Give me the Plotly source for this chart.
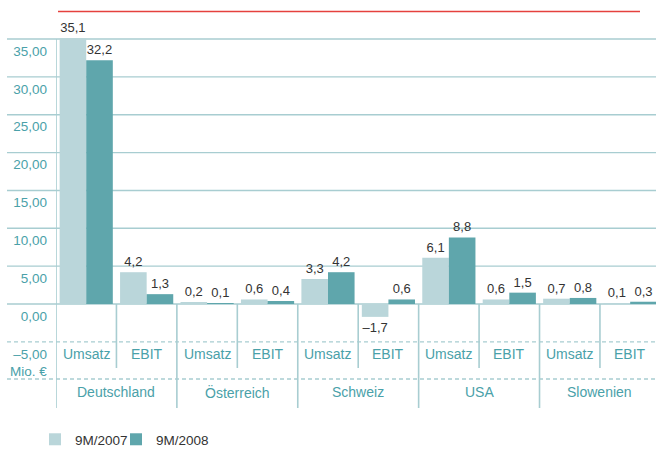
import plotly.graph_objects as go

countries = ["Deutschland", "Österreich", "Schweiz", "USA", "Slowenien"]
measures = ["Umsatz", "EBIT"]
series_names = ["9M/2007", "9M/2008"]
values_2007 = [35.1, 4.2, 0.2, 0.6, 3.3, -1.7, 6.1, 0.6, 0.7, 0.1]
values_2008 = [32.2, 1.3, 0.1, 0.4, 4.2, 0.6, 8.8, 1.5, 0.8, 0.3]
tick_values = [-5, 0, 5, 10, 15, 20, 25, 30, 35]
unit_label = "Mio. €"

LIGHT = "#bad6da"
DARK = "#5fa6ac"
TEAL_TXT = "#4aa1a9"
GRID = "#a8cdd1"
RED = "#e5413d"
TXT = "#333333"
FONT = "Liberation Sans, Arial, sans-serif"

def fmt(v, dec=1):
    s = f"{abs(v):.{dec}f}".replace(".", ",")
    return ("–" + s) if v < 0 else s

n = len(countries) * len(measures)
xs = list(range(n))
cat_labels = [measures[i % 2] for i in xs]

W, H = 656, 451
ml, mr, mt, mb = 56, 0, 16, 41
plot_w = W - ml - mr
plot_h = H - mt - mb
y_top, y_bot = 38.04, -14.0
ppu = plot_h / (y_top - y_bot)

def py(pix):  # pixel row -> data y
    return y_top - (pix - mt) / ppu

def px_paper(pix):
    return (pix - ml) / plot_w

def py_paper(pix):
    return (mt + plot_h - pix) / plot_h

fig = go.Figure()
for name, vals, col, lg in [(series_names[0], values_2007, LIGHT, "legend"),
                            (series_names[1], values_2008, DARK, "legend2")]:
    fig.add_trace(go.Bar(
        x=xs, y=vals, name=name, marker=dict(color=col, line=dict(width=0)),
        text=[fmt(v) for v in vals], textposition="outside", cliponaxis=False,
        constraintext="none", textfont=dict(color=TXT, size=13, family=FONT),
        hoverinfo="skip", legend=lg,
    ))

shapes = []
for v in tick_values:
    shapes.append(dict(type="line", xref="paper", yref="y", x0=px_paper(7), x1=1, y0=v, y1=v,
                       line=dict(color=GRID, width=1.4, dash="4px,3px" if v < 0 else "solid"),
                       layer="below"))
shapes.append(dict(type="line", xref="paper", yref="y", x0=px_paper(7), x1=1, y0=py(379), y1=py(379),
                   line=dict(color=GRID, width=1.4, dash="4px,3px"), layer="below"))
shapes.append(dict(type="line", xref="x", yref="y", x0=-0.5, x1=-0.5, y0=35, y1=py(408),
                   line=dict(color=GRID, width=1.6), layer="below"))
for i in range(1, n):
    b = i - 0.5
    bottom = py(408) if i % 2 == 0 else py(368)
    shapes.append(dict(type="line", xref="x", yref="y", x0=b, x1=b, y0=0, y1=bottom,
                       line=dict(color=GRID, width=1.6), layer="below"))
shapes.append(dict(type="line", xref="paper", yref="paper", x0=px_paper(58), x1=px_paper(640),
                   y0=py_paper(11.5), y1=py_paper(11.5), line=dict(color=RED, width=1.5)))

annotations = []
for i in xs:
    annotations.append(dict(x=i, y=py(354), xref="x", yref="y", text=cat_labels[i], showarrow=False,
                            font=dict(color=TEAL_TXT, size=14, family=FONT)))
for k, c in enumerate(countries):
    annotations.append(dict(x=2 * k + 0.5, y=py(392), xref="x", yref="y", text=c, showarrow=False,
                            font=dict(color=TEAL_TXT, size=14, family=FONT)))
annotations.append(dict(x=px_paper(49), y=py(371), xref="paper", yref="y", text=unit_label,
                        showarrow=False, xanchor="right",
                        font=dict(color=TEAL_TXT, size=13.5, family=FONT)))

leg_common = dict(orientation="h", xanchor="left", y=py_paper(455), yanchor="bottom",
                  font=dict(color=TXT, size=13.5, family=FONT), bgcolor="rgba(0,0,0,0)",
                  itemwidth=30)

fig.update_layout(
    width=W, height=H, margin=dict(l=ml, r=mr, t=mt, b=mb, autoexpand=False),
    paper_bgcolor="white", plot_bgcolor="white",
    barmode="group", bargap=0.12, bargroupgap=0,
    font=dict(family=FONT, color=TEAL_TXT),
    xaxis=dict(range=[-0.5, -0.5 + plot_w / 60.44], showgrid=False, zeroline=False,
               showticklabels=False, ticks="", fixedrange=True, automargin=False),
    yaxis=dict(range=[y_bot, y_top], tickvals=tick_values, ticktext=[fmt(v, 2) for v in tick_values],
               showgrid=False, zeroline=False, ticks="", ticklabelshift=12, ticklabelstandoff=8,
               automargin=False, tickfont=dict(color=TEAL_TXT, size=13.5, family=FONT)),
    shapes=shapes, annotations=annotations,
    legend=dict(x=px_paper(35), **leg_common),
    legend2=dict(x=px_paper(116), **leg_common),
    showlegend=True,
)
fig.write_html("out.html", config={"displayModeBar": False},
               post_script="document.body.style.margin='0';document.body.style.overflow='hidden';")
